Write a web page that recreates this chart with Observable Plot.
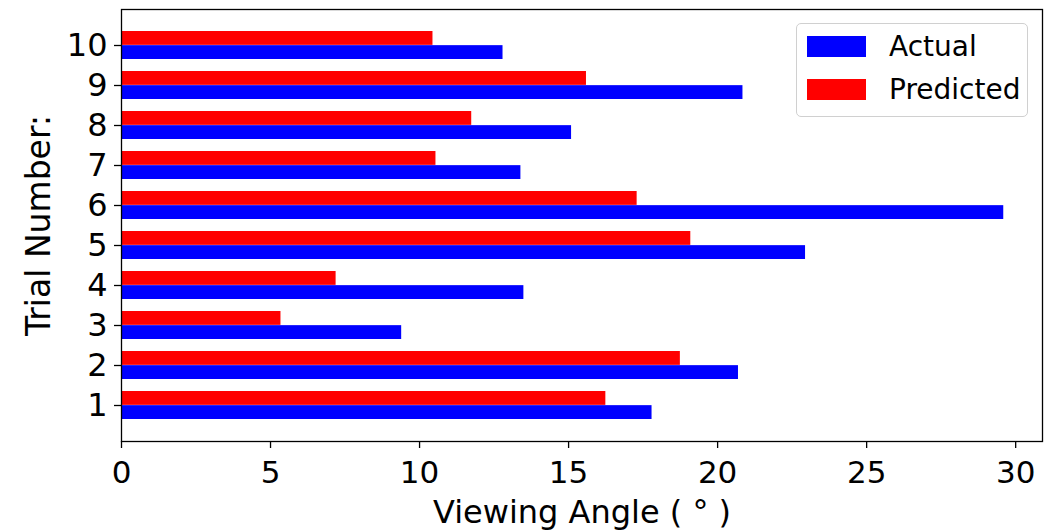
<!DOCTYPE html>
<html>
<head>
<meta charset="utf-8">
<script src="https://cdn.jsdelivr.net/npm/d3@7"></script>
<script src="https://cdn.jsdelivr.net/npm/@observablehq/plot@0.6"></script>
<style>
  html, body { margin: 0; padding: 0; background: white; }
  #wrap { position: relative; width: 1044px; height: 530px; overflow: hidden; font-family: "DejaVu Sans", sans-serif; }
  #legend { position: absolute; left: 796px; top: 23px; width: 232px; height: 94px; box-sizing: border-box;
            border: 1px solid #d0d0d0; border-radius: 5px; background: rgba(255,255,255,0.85); }
  .item { position: absolute; left: 10px; height: 22px; }
  .sw { position: absolute; left: 0; top: 0; width: 59px; height: 21px; }
  .lab { position: absolute; left: 82px; top: -6px; font-size: 28px; line-height: 34px; color: black; white-space: nowrap; }
</style>
</head>
<body>
<div id="wrap"></div>
<script>
const trials = [1, 2, 3, 4, 5, 6, 7, 8, 9, 10];
const actual = [17.8, 20.7, 9.4, 13.5, 22.95, 29.6, 13.4, 15.1, 20.85, 12.8];
const predicted = [16.25, 18.75, 5.35, 7.2, 19.1, 17.3, 10.55, 11.75, 15.6, 10.45];
const seriesNames = ["Actual", "Predicted"];
const seriesColors = ["blue", "red"];
const xTicks = [0, 5, 10, 15, 20, 25, 30];
const xLabel = "Viewing Angle ( ° )";
const yLabel = "Trial Number:";

const actualRows = trials.map((t, i) => ({trial: t, series: seriesNames[0], value: actual[i]}));
const predictedRows = trials.map((t, i) => ({trial: t, series: seriesNames[1], value: predicted[i]}));

const half = 14.15;

const chart = Plot.plot({
  width: 1044,
  height: 530,
  marginTop: 9,
  marginBottom: 89,
  marginLeft: 121,
  marginRight: 2,
  style: {fontFamily: "DejaVu Sans", fontSize: "32px", color: "black", background: "white", overflow: "visible"},
  x: {domain: [0, 30.9]},
  y: {type: "band", domain: trials.slice().reverse(), paddingInner: 0.3, paddingOuter: 0.485},
  color: {domain: seriesNames, range: seriesColors},
  marks: [
    Plot.barX(predictedRows, {x: "value", y: "trial", fill: "series", insetBottom: half}),
    Plot.barX(actualRows, {x: "value", y: "trial", fill: "series", insetTop: half}),
    Plot.frame({stroke: "black", strokeWidth: 1.3}),
    Plot.axisX({ticks: xTicks, tickSize: 7, tickPadding: 12, label: null, fontSize: 31, stroke: "black", strokeWidth: 1.3}),
    Plot.axisY({tickSize: 7, tickPadding: 7, label: null, fontSize: 32, stroke: "black", strokeWidth: 1.3}),
    Plot.text([xLabel], {frameAnchor: "bottom", dy: 81, text: d => d, fontSize: 32, textAnchor: "middle", lineAnchor: "bottom"}),
    Plot.text([yLabel], {frameAnchor: "left", dx: -82, text: d => d, fontSize: 33, rotate: -90, textAnchor: "middle"})
  ]
});

const wrap = document.getElementById("wrap");
wrap.appendChild(chart);

const legend = document.createElement("div");
legend.id = "legend";
seriesNames.forEach((name, i) => {
  const item = document.createElement("div");
  item.className = "item";
  item.style.top = (12 + i * 43) + "px";
  const sw = document.createElement("div");
  sw.className = "sw";
  sw.style.background = seriesColors[i];
  const lab = document.createElement("div");
  lab.className = "lab";
  lab.textContent = name;
  item.appendChild(sw);
  item.appendChild(lab);
  legend.appendChild(item);
});
wrap.appendChild(legend);
</script>
</body>
</html>
